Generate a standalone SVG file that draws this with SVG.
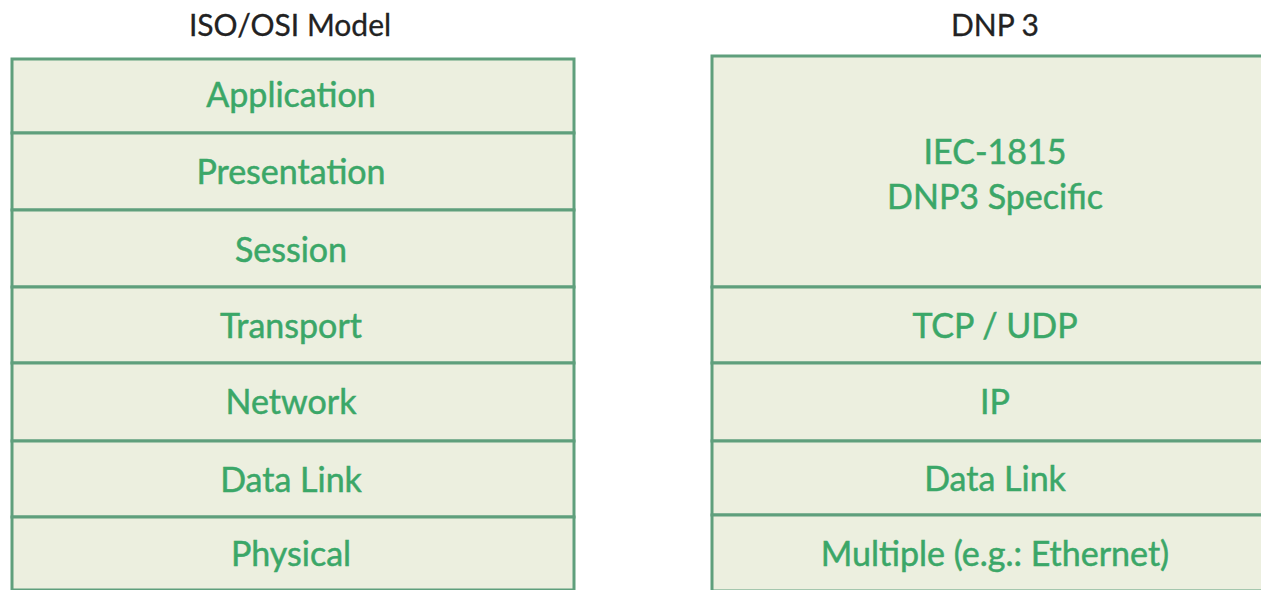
<svg xmlns="http://www.w3.org/2000/svg" width="1261" height="590" viewBox="0 0 1261 590">
<style>
.cell{fill:#ecefdf;stroke:#5f9f7c;stroke-width:3}
.lbl{font-family:Lato,"Open Sans",sans-serif;font-size:34px;fill:#3ba768;stroke:#3ba768;stroke-width:0.5;text-anchor:middle}
.ttl{font-family:Lato,"Open Sans",sans-serif;font-size:30px;fill:#222;stroke:#222;stroke-width:0.3;text-anchor:middle}
</style>
<rect width="1261" height="590" fill="#ffffff"/>
<g id="titles">
<text class="ttl" x="290" y="36">ISO/OSI Model</text>
<text class="ttl" x="995" y="36">DNP 3</text>
</g>
<g id="osi">
<g id="osi-application"><rect class="cell" x="12" y="59" width="562" height="74"/><text class="lbl" x="291" y="107">Application</text></g>
<g id="osi-presentation"><rect class="cell" x="12" y="133" width="562" height="77"/><text class="lbl" x="291" y="184">Presentation</text></g>
<g id="osi-session"><rect class="cell" x="12" y="210" width="562" height="77"/><text class="lbl" x="291" y="262">Session</text></g>
<g id="osi-transport"><rect class="cell" x="12" y="287" width="562" height="76"/><text class="lbl" x="291" y="338">Transport</text></g>
<g id="osi-network"><rect class="cell" x="12" y="363" width="562" height="78"/><text class="lbl" x="291" y="414">Network</text></g>
<g id="osi-datalink"><rect class="cell" x="12" y="441" width="562" height="76"/><text class="lbl" x="291" y="492">Data Link</text></g>
<g id="osi-physical"><rect class="cell" x="12" y="517" width="562" height="73"/><text class="lbl" x="291" y="566">Physical</text></g>
</g>
<g id="dnp3">
<g id="dnp-app"><rect class="cell" x="712" y="56" width="570" height="231"/><text class="lbl" x="995" y="164">IEC-1815</text><text class="lbl" x="995" y="209">DNP3 Specific</text></g>
<g id="dnp-tcpudp"><rect class="cell" x="712" y="287" width="570" height="76"/><text class="lbl" x="995" y="338">TCP / UDP</text></g>
<g id="dnp-ip"><rect class="cell" x="712" y="363" width="570" height="78"/><text class="lbl" x="995" y="414">IP</text></g>
<g id="dnp-datalink"><rect class="cell" x="712" y="441" width="570" height="74"/><text class="lbl" x="995" y="491">Data Link</text></g>
<g id="dnp-physical"><rect class="cell" x="712" y="515" width="570" height="76"/><text class="lbl" x="995" y="566">Multiple (e.g.: Ethernet)</text></g>
</g>
<g id="connectors"/>
</svg>
